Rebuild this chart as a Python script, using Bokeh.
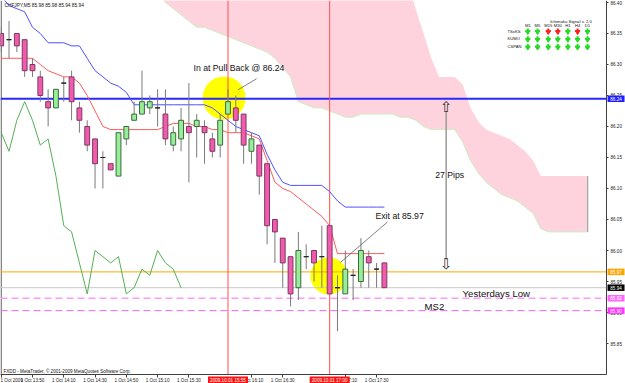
from bokeh.plotting import figure
from bokeh.models import Range1d, FixedTicker, NumeralTickFormatter, ColumnDataSource
from bokeh.embed import file_html
from bokeh.resources import INLINE
from bokeh.core.properties import value

# ---------------- data ----------------
symbol_header = "CHFJPY,M5  85.98 85.98 85.94 85.94"
footer_text = "FXDD - MetaTrader, \u00a9 2001-2009 MetaQuotes Software Corp."

# M5 bars, 1 Oct 2009 13:30 .. 17:35 (bar index 0..49)
open_ = [86.35, 86.34, 86.35, 86.34, 86.30, 86.28, 86.24, 86.23, 86.27, 86.28,
         86.23, 86.20, 86.18, 86.15, 86.14, 86.12, 86.18, 86.21, 86.22, 86.23,
         86.23, 86.22, 86.17, 86.18, 86.20, 86.20, 86.20, 86.18, 86.17, 86.22,
         86.23, 86.22, 86.16, 86.17, 86.14, 86.05, 86.02, 85.99, 85.94, 85.99,
         86.00, 85.99, 86.04, 85.94, 85.93, 85.96, 85.95, 85.99, 85.97, 85.98]
high = [86.36, 86.37, 86.35, 86.34, 86.31, 86.29, 86.26, 86.26, 86.28, 86.29,
        86.24, 86.21, 86.18, 86.16, 86.14, 86.19, 86.20, 86.24, 86.29, 86.25,
        86.26, 86.26, 86.20, 86.23, 86.27, 86.22, 86.21, 86.19, 86.22, 86.26,
        86.25, 86.22, 86.19, 86.17, 86.14, 86.05, 86.02, 85.99, 86.03, 86.01,
        86.00, 86.04, 86.04, 85.96, 86.00, 85.97, 86.02, 86.00, 85.98, 85.98]
low = [86.32, 86.31, 86.32, 86.28, 86.28, 86.24, 86.20, 86.23, 86.24, 86.21,
       86.19, 86.16, 86.10, 86.10, 86.13, 86.12, 86.17, 86.21, 86.22, 86.22,
       86.20, 86.17, 86.16, 86.16, 86.11, 86.15, 86.14, 86.15, 86.15, 86.22,
       86.19, 86.14, 86.14, 86.09, 86.01, 85.98, 85.94, 85.91, 85.92, 85.97,
       85.95, 85.94, 85.93, 85.87, 85.93, 85.92, 85.94, 85.94, 85.94, 85.94]
close = [86.33, 86.34, 86.33, 86.29, 86.29, 86.25, 86.23, 86.26, 86.27, 86.24,
         86.21, 86.17, 86.14, 86.15, 86.13, 86.19, 86.20, 86.22, 86.24, 86.24,
         86.23, 86.18, 86.19, 86.21, 86.19, 86.21, 86.19, 86.16, 86.21, 86.24,
         86.21, 86.17, 86.18, 86.12, 86.04, 86.03, 85.98, 85.93, 86.00, 85.99,
         85.98, 85.99, 85.93, 85.94, 85.97, 85.96, 86.00, 85.98, 85.97, 85.94]

# Ichimoku lines
tenkan = [86.31, 86.31, 86.31, 86.31, 86.31, 86.30, 86.29, 86.285, 86.28, 86.28,
          86.27, 86.25, 86.225, 86.20, 86.195, 86.195, 86.195, 86.195, 86.195, 86.195,
          86.195, 86.20, 86.205, 86.205, 86.205, 86.20, 86.20, 86.195, 86.195, 86.19,
          86.19, 86.19, 86.185, 86.18, 86.145, 86.11, 86.10, 86.095, 86.085, 86.075,
          86.065, 86.055, 86.04, 85.995, 85.995, 85.995, 85.995, 85.995, 85.995, 85.995]
kijun = [86.41, 86.395, 86.39, 86.385, 86.36, 86.35, 86.335, 86.335, 86.335, 86.33,
         86.33, 86.31, 86.29, 86.28, 86.27, 86.265, 86.255, 86.235, 86.235, 86.235,
         86.235, 86.235, 86.235, 86.235, 86.235, 86.235, 86.235, 86.23, 86.22, 86.21,
         86.20, 86.195, 86.19, 86.185, 86.155, 86.13, 86.11, 86.105, 86.105, 86.105,
         86.105, 86.105, 86.095, 86.08, 86.07, 86.07, 86.07, 86.07, 86.07, 86.07]
chikou_shift = 26

# Kumo (shifted forward), bar index 20..75
kumo_start = 20
kumo_upper = [86.45, 86.45, 86.45, 86.45, 86.45, 86.45, 86.45, 86.45, 86.45, 86.45,
              86.45, 86.45, 86.45, 86.45, 86.45, 86.45, 86.45, 86.45, 86.45, 86.45,
              86.45, 86.45, 86.45, 86.45, 86.45, 86.45, 86.45, 86.45, 86.45, 86.45,
              86.45, 86.45, 86.43, 86.39, 86.35, 86.31, 86.28, 86.28, 86.28, 86.268,
              86.23, 86.208, 86.195, 86.19, 86.185, 86.18, 86.17, 86.16, 86.145, 86.12,
              86.12, 86.12, 86.12, 86.12, 86.12, 86.12]
kumo_lower = [86.42, 86.40, 86.39, 86.38, 86.37, 86.36, 86.36, 86.355, 86.35, 86.345,
              86.34, 86.335, 86.33, 86.325, 86.32, 86.31, 86.295, 86.28, 86.24, 86.235,
              86.23, 86.23, 86.225, 86.22, 86.215, 86.215, 86.22, 86.22, 86.22, 86.22,
              86.22, 86.215, 86.215, 86.21, 86.20, 86.195, 86.195, 86.195, 86.195, 86.175,
              86.145, 86.125, 86.11, 86.10, 86.09, 86.085, 86.08, 86.07, 86.06, 86.035,
              86.03, 86.03, 86.03, 86.03, 86.03, 86.03]

# axes
price_ticks = [85.85, 85.90, 85.95, 86.00, 86.05, 86.10, 86.15, 86.20, 86.25, 86.30, 86.35, 86.40]
tick_bars = [0, 4, 8, 12, 16, 20, 24, 32, 36, 44, 48]
tick_labels = ["1 Oct 2009", "1 Oct 13:50", "1 Oct 14:10", "1 Oct 14:30", "1 Oct 14:50",
               "1 Oct 15:10", "1 Oct 15:30", "1 Oct 16:10", "1 Oct 16:30", "1 Oct 17:10",
               "1 Oct 17:30"]
marker_bars = [29, 42]
marker_labels = ["2009.10.01 15:55", "2009.10.01 17:00"]

# horizontal level objects (entry, exit, bid, yesterday's low, MS2)
level_prices = [86.2447, 85.9655, 85.94, 85.923, 85.903]
level_labels = ["86.24", "85.97", "85.94", "85.92", "85.90"]
entry_text = "In at Pull Back @ 86.24"
exit_text = "Exit at 85.97"
pips_text = "27 Pips"

# indicator panel
panel_title = "Ichimoku Signal v. 2.0"
panel_cols = ["M1", "M5", "M15", "M30", "H1", "H4", "D1"]
panel_rows = ["TSxKS", "KUMO", "CSPAN"]
panel_signal = [[1, 1, 0, 0, 1, 0, 1],
                [1, 1, 1, 1, 1, 1, 1],
                [1, 1, 1, 1, 1, 1, 1]]

# ---------------- figure ----------------
PINK = "#F25AAE"
GREEN = "#98EE98"
FONT = "Liberation Sans"
X0, XAX = -0.09, 77.40          # left edge / price-axis position (bar units)
Y0, Y1 = 85.80, 86.4032          # time-axis position / top edge (price)
XR, YB = 79.83, 85.7855          # canvas right / bottom edges

p = figure(width=625, height=383, output_backend="svg", toolbar_location=None,
           x_range=Range1d(X0, XR), y_range=Range1d(YB, Y1),
           y_axis_location="right", min_border_left=0, min_border_right=0,
           min_border_top=0, min_border_bottom=0, background_fill_color="white",
           border_fill_color="white")
p.grid.visible = False
p.outline_line_color = None

# axes (fixed inside the canvas)
p.yaxis.fixed_location = XAX
p.yaxis.bounds = (Y0, Y1)
p.yaxis.ticker = FixedTicker(ticks=price_ticks)
p.yaxis.formatter = NumeralTickFormatter(format="0.00")
p.yaxis.major_label_text_font = FONT
p.yaxis.major_label_text_font_size = "4.6px"
p.yaxis.major_label_text_color = "#222222"
p.yaxis.major_tick_out = 2
p.yaxis.major_tick_in = 0
p.yaxis.minor_tick_line_color = None
p.yaxis.major_label_standoff = 2
p.yaxis.axis_line_color = "#404040"
p.yaxis.major_tick_line_color = "#404040"

p.xaxis.fixed_location = Y0
p.xaxis.bounds = (X0, XAX)
p.xaxis.ticker = FixedTicker(ticks=tick_bars)
p.xaxis.major_label_overrides = {b: t for b, t in zip(tick_bars, tick_labels)}
p.xaxis.major_label_text_font = FONT
p.xaxis.major_label_text_font_size = "4.6px"
p.xaxis.major_label_text_color = "#222222"
p.xaxis.major_label_text_align = "left"
p.xaxis.major_tick_out = 3
p.xaxis.major_tick_in = 0
p.xaxis.minor_tick_line_color = None
p.xaxis.major_label_standoff = 0
p.xaxis.axis_line_color = "#404040"
p.xaxis.major_tick_line_color = "#404040"

# left border of the chart window
p.segment(x0=[X0 + 0.08], y0=[Y0], x1=[X0 + 0.08], y1=[Y1], line_color="#404040", line_width=1)

# kumo
kx = list(range(kumo_start, kumo_start + len(kumo_upper)))
p.varea(x=kx, y1=kumo_lower, y2=kumo_upper, fill_color="#FFD3DE")
p.line(kx, kumo_lower, line_color="#C8EEC0", line_width=1)
p.segment(x0=[kx[-1]], y0=[kumo_lower[-1]], x1=[kx[-1]], y1=[kumo_upper[-1]],
          line_color="#8A9A8A", line_width=1)

# yellow highlight circles (entry / exit)
circle_x = [28.5, 41.9]
circle_y = [86.246, 85.959]
circle_d = [43, 37]
p.scatter(x=circle_x, y=circle_y, size=circle_d, marker="circle",
          fill_color="#FFFF00", line_color=None)

# horizontal levels
level_colors = ["#2828FF", "#FFA500", "#C8C8C8", "#FF99FF", "#EE66EE"]
level_widths = [2, 1, 1, 1.5, 1]
level_dash = ["solid", "solid", "solid", "7 4", "7 4"]
for yv, c, w, d in zip(level_prices, level_colors, level_widths, level_dash):
    p.segment(x0=[X0], y0=[yv], x1=[XAX], y1=[yv], line_color=c, line_width=w, line_dash=d)

# vertical time markers
p.segment(x0=marker_bars, y0=[Y0] * 2, x1=marker_bars, y1=[Y1] * 2,
          line_color="#FF5050", line_width=1)

# ichimoku lines
bars = list(range(len(close)))
p.line(bars, kijun, line_color="#5050FF", line_width=1)
p.line(bars, tenkan, line_color="#FF5A5A", line_width=1)
p.line([b - chikou_shift for b in bars[chikou_shift:]], close[chikou_shift:],
       line_color="#55B055", line_width=1)

# candles
top = [max(o, c) for o, c in zip(open_, close)]
bot = [min(o, c) for o, c in zip(open_, close)]
fill = [PINK if c < o else (GREEN if c > o else None) for o, c in zip(open_, close)]
edge = ["#7A3A60" if c < o else ("#3C6A3C" if c > o else "#202020") for o, c in zip(open_, close)]
src = ColumnDataSource(dict(x=bars, top=top, bot=bot, high=high, low=low, fill=fill, edge=edge))
p.segment(x0="x", y0="low", x1="x", y1="high", source=src, line_color="#7A7A7A", line_width=1)
p.vbar(x="x", width=0.62, top="top", bottom="bot", source=src, fill_color="fill",
       line_color="edge", line_width=1)

# annotations
p.segment(x0=[30.26], y0=[86.259], x1=[32.65], y1=[86.277], line_color="#606060", line_width=0.8)
p.segment(x0=[43.4], y0=[85.981], x1=[49.4], y1=[86.046], line_color="#606060", line_width=0.8)
p.text(x=[24.59], y=[86.295], text=[entry_text],
       text_font=value(FONT), text_font_size=value("8.7px"), text_color="#111111",
       text_baseline="middle")
p.text(x=[47.86], y=[86.056], text=[exit_text],
       text_font=value(FONT), text_font_size=value("8.7px"), text_color="#111111",
       text_baseline="middle")

# 27 pips measure
p.segment(x0=[56.9], y0=[level_prices[0] - 0.02], x1=[56.9], y1=[level_prices[1] + 0.02],
          line_color="#A0A0A0", line_width=1.6)
p.text(x=[56.9], y=[level_prices[0] + 0.002], text=["\u21e7"], text_font=value("DejaVu Sans"),
       text_font_size=value("15px"), text_color="#303030", text_align="center",
       text_baseline="top")
p.text(x=[56.9], y=[level_prices[1] - 0.002], text=["\u21e9"], text_font=value("DejaVu Sans"),
       text_font_size=value("15px"), text_color="#303030", text_align="center",
       text_baseline="bottom")
p.text(x=[55.5], y=[86.121], text=[pips_text], text_font=value(FONT),
       text_font_size=value("8.7px"), text_color="#111111", text_baseline="middle")

p.text(x=[59.0], y=[85.930], text=["Yesterdays Low"], text_font=value(FONT),
       text_font_size=value("9.6px"), text_color="#111111", text_baseline="middle")
p.text(x=[54.13], y=[85.909], text=["MS2"], text_font=value(FONT),
       text_font_size=value("9.6px"), text_color="#111111", text_baseline="middle")

# header / footer
p.text(x=[0.42], y=[86.395], text=[symbol_header], text_font=value(FONT),
       text_font_size=value("4.8px"), text_color="#111111", text_baseline="middle")
p.text(x=[0.29], y=[85.805], text=[footer_text], text_font=value(FONT),
       text_font_size=value("4.6px"), text_color="#111111", text_baseline="middle")

# indicator panel
col_x = [67.34, 68.58, 69.95, 71.18, 72.46, 73.70, 74.97]
row_y = [86.354, 86.3415, 86.329]
p.text(x=[72.86], y=[86.370], text=[panel_title], text_font=value(FONT),
       text_font_size=value("4.3px"), text_color="#111111", text_align="center",
       text_baseline="middle")
p.text(x=col_x, y=[86.363] * len(col_x), text=panel_cols, text_font=value(FONT),
       text_font_size=value("4.2px"), text_color="#111111", text_align="center",
       text_baseline="middle")
p.text(x=[64.74] * 3, y=row_y, text=panel_rows, text_font=value(FONT),
       text_font_size=value("4.2px"), text_color="#111111", text_baseline="middle")
ax, ay, ac = [], [], []
for r, yy in enumerate(row_y):
    for c, xx in enumerate(col_x):
        ax.append(xx)
        ay.append(yy)
        ac.append("#22DD22" if panel_signal[r][c] else "#FF2020")
p.scatter(x=ax, y=ay, marker="cross", size=5, line_color=ac, line_width=2)
p.scatter(x=ax, y=[v - 0.002 for v in ay], marker="inverted_triangle", size=4,
          fill_color=ac, line_color=ac)

# price boxes on the price axis
box_colors = ["#1E1EFF", "#FFA500", "#000000", "#FF66FF", "#FF33FF"]
box_x = XAX + 1.22
r1 = p.rect(x=[box_x] * len(level_prices), y=level_prices, width=17, height=6.5,
            width_units="screen", height_units="screen", fill_color=box_colors, line_color=None)
r2 = p.text(x=[box_x] * len(level_prices), y=level_prices, text=level_labels,
            text_font=value(FONT), text_font_size=value("4.6px"), text_color="white",
            text_align="center", text_baseline="middle")

# date boxes on the time axis
date_y = 85.7911
r3 = p.rect(x=marker_bars, y=[date_y] * 2, width=40, height=7, width_units="screen",
            height_units="screen", fill_color="#FF1010", line_color=None)
r4 = p.text(x=marker_bars, y=[date_y] * 2, text=marker_labels, text_font=value(FONT),
            text_font_size=value("4.6px"), text_color="white", text_align="center",
            text_baseline="middle")
for r in (r1, r2, r3, r4):
    r.level = "annotation"

open("out.html", "w").write(file_html(p, INLINE))
